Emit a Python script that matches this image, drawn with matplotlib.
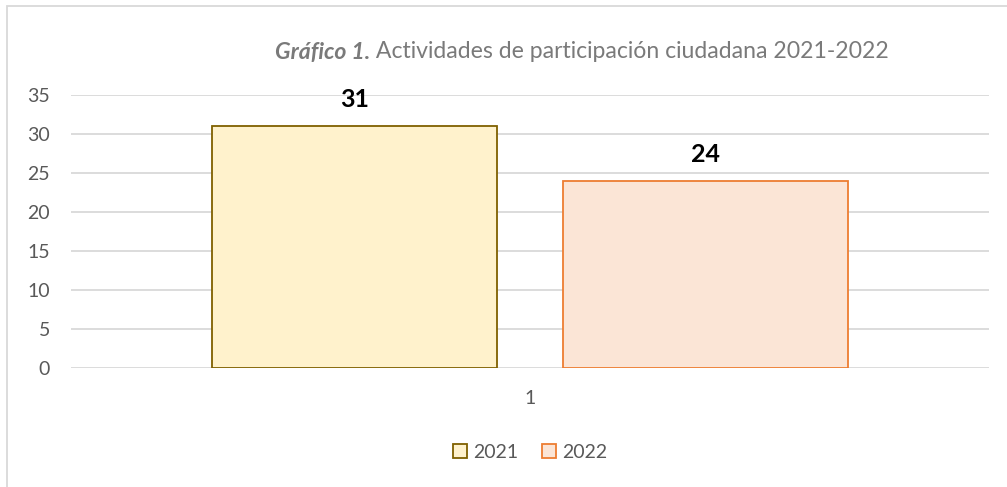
import matplotlib.pyplot as plt
import numpy as np
from matplotlib.patches import Rectangle

# datos
categorias = ['1']
series = ['2021', '2022']
valores = [31, 24]
colores = ['#FFF2CC', '#FBE5D6']
bordes = ['#7F6000', '#ED7D31']

plt.rcParams['font.family'] = ['Lato', 'DejaVu Sans']

fig = plt.figure(figsize=(10.07, 4.87), dpi=100)
ax = fig.add_axes([71 / 1007, 1 - 368 / 487, 918 / 1007, 273 / 487])

# marco del gráfico
fig.patches.append(Rectangle((7 / 1007, -0.1), 1.2, 1 - 6 / 487 + 0.1, transform=fig.transFigure,
                             fill=False, edgecolor='#d9d9d9', lw=1.3, zorder=0))

x = np.arange(len(categorias)) + 1
ancho = 0.31
offsets = [-0.191, 0.191]
for i, s in enumerate(series):
    b = ax.bar(x + offsets[i], [valores[i]], width=ancho, color=colores[i],
               edgecolor=bordes[i], linewidth=1.3, label=s, zorder=3)
    ax.bar_label(b, padding=11, fontsize=18, fontweight='bold', color='black')

ax.set_xlim(0.5, 1.5)
ax.set_ylim(0, 35)
ax.set_yticks(range(0, 36, 5))
ax.set_xticks(x)
ax.set_xticklabels(categorias)
ax.grid(axis='y', color='#d9d9d9', lw=1.3, zorder=0)
for sp in ax.spines.values():
    sp.set_visible(False)
ax.tick_params(length=0, labelsize=14, colors='#595959')
ax.tick_params(axis='y', pad=15)
ax.tick_params(axis='x', pad=16)

# título en dos partes, centrado
ty = 1 - 52 / 487
t1 = fig.text(0, ty, 'Gráfico 1.', ha='left', va='center',
              fontsize=16.6, fontweight='bold', fontstyle='italic', color='#7a7a7a')
t2 = fig.text(0, ty, ' Actividades de participación ciudadana 2021-2022',
              ha='left', va='center', fontsize=16.6, color='#7a7a7a')
r = fig.canvas.get_renderer()
w1 = t1.get_window_extent(r).width
w2 = t2.get_window_extent(r).width
x0 = 582 - (w1 + w2) / 2
t1.set_x(x0 / 1007)
t2.set_x((x0 + w1) / 1007)

ax.legend(loc='center', bbox_to_anchor=(530 / 1007, 1 - 452 / 487), bbox_transform=fig.transFigure,
          ncol=2, frameon=False, fontsize=14, labelcolor='#595959', handlelength=0.75,
          handleheight=0.75, handletextpad=0.3, columnspacing=1.2)

plt.savefig('out.png', dpi=100)
